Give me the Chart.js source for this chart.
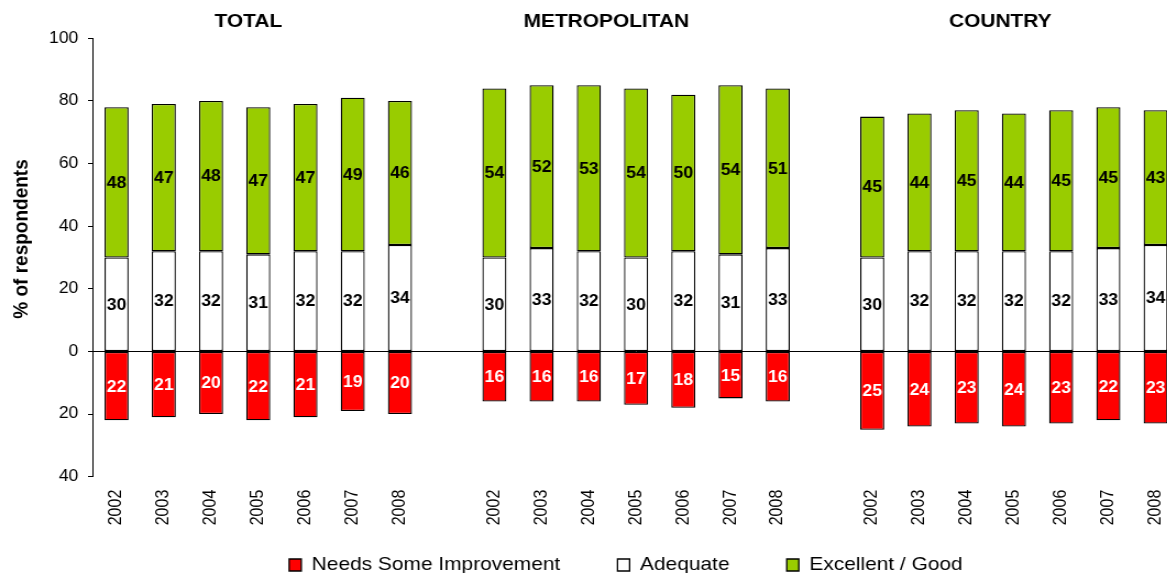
<!DOCTYPE html>
<html>
<head>
<meta charset="utf-8">
<script src="https://cdn.jsdelivr.net/npm/chart.js@4.4.1/dist/chart.umd.min.js"></script>
<style>
    html, body { margin: 0; padding: 0; background: #fff; overflow: hidden; }
    /* the original picture is a little wider than tall in its text, so stretch it */
    #wrap { width: 1072px; height: 573px; transform: scaleX(1.1); transform-origin: 0 0; }
</style>
</head>
<body>
<div id="wrap"><canvas id="myChart"></canvas></div>
<script>
const years = ['2002', '2003', '2004', '2005', '2006', '2007', '2008'];
const groups = ['TOTAL', 'METROPOLITAN', 'COUNTRY'];

const needsTotal = [22, 21, 20, 22, 21, 19, 20];
const needsMetro = [16, 16, 16, 17, 18, 15, 16];
const needsCountry = [25, 24, 23, 24, 23, 22, 23];

const adequateTotal = [30, 32, 32, 31, 32, 32, 34];
const adequateMetro = [30, 33, 32, 30, 32, 31, 33];
const adequateCountry = [30, 32, 32, 32, 32, 33, 34];

const excellentTotal = [48, 47, 48, 47, 47, 49, 46];
const excellentMetro = [54, 52, 53, 54, 50, 54, 51];
const excellentCountry = [45, 44, 45, 44, 45, 45, 43];

const yTicks = [-40, -20, 0, 20, 40, 60, 80, 100];

// one empty category between the three groups
const labels = [];
groups.forEach((g, i) => {
    if (i > 0) labels.push('');
    labels.push(...years);
});

function series(parts, sign) {
    const out = [];
    parts.forEach((p, i) => {
        if (i > 0) out.push(null);
        p.forEach(v => out.push(v * sign));
    });
    return out;
}

Chart.defaults.font.family = '"Liberation Sans", Arial, sans-serif';
Chart.defaults.color = '#000000';

const barLabels = {
    id: 'barLabels',
    afterDatasetsDraw(chart) {
        const ctx = chart.ctx;
        ctx.save();
        ctx.font = 'bold 16px "Liberation Sans", Arial, sans-serif';
        ctx.textAlign = 'center';
        ctx.textBaseline = 'middle';
        chart.data.datasets.forEach((ds, di) => {
            const meta = chart.getDatasetMeta(di);
            meta.data.forEach((el, i) => {
                const v = ds.data[i];
                if (v === null) return;
                const p = el.getCenterPoint();
                ctx.fillStyle = ds.labelColor;
                ctx.fillText(Math.abs(v), p.x, p.y + 1);
            });
        });
        ctx.restore();
    }
};

const annotations = {
    id: 'annotations',
    afterDraw(chart) {
        const ctx = chart.ctx;
        const x = chart.scales.x;
        const titleAt = [2.79, 10.37, 18.71];
        ctx.save();
        ctx.fillStyle = '#000000';
        ctx.font = 'bold 19px "Liberation Sans", Arial, sans-serif';
        ctx.textAlign = 'center';
        ctx.textBaseline = 'middle';
        groups.forEach((g, i) => ctx.fillText(g, x.getPixelForValue(titleAt[i]), 22));

        // axis title
        ctx.translate(19.4, 239);
        ctx.rotate(-Math.PI / 2);
        ctx.fillText('% of respondents', 0, 0);
        ctx.restore();
    }
};

// legend sits a bit right of the middle and close under the year labels
const legendShift = {
    id: 'legendShift',
    afterLayout(chart) {
        const l = chart.legend;
        const dx = 33;
        const dy = -22.2;
        l.left += dx;
        l.right += dx;
        l.top += dy;
        l.height = l.bottom - l.top;
    }
};

const ctx = document.getElementById('myChart');

new Chart(ctx, {
    type: 'bar',
    data: {
        labels: labels,
        datasets: [
            {
                label: 'Needs Some Improvement',
                data: series([needsTotal, needsMetro, needsCountry], -1),
                backgroundColor: '#FF0000',
                labelColor: '#FFFFFF'
            },
            {
                label: 'Adequate',
                data: series([adequateTotal, adequateMetro, adequateCountry], 1),
                backgroundColor: '#FFFFFF',
                labelColor: '#000000'
            },
            {
                label: 'Excellent / Good',
                data: series([excellentTotal, excellentMetro, excellentCountry], 1),
                backgroundColor: '#99CC00',
                labelColor: '#000000'
            }
        ]
    },
    options: {
        responsive: true,
        maintainAspectRatio: false,
        animation: false,
        layout: {
            padding: {top: 38.3, left: 0, right: 0, bottom: 0}
        },
        datasets: {
            bar: {
                barPercentage: 0.51,
                categoryPercentage: 1,
                borderColor: '#000000',
                borderWidth: 1.3,
                borderSkipped: false
            }
        },
        plugins: {
            legend: {
                position: 'bottom',
                maxHeight: 47.3,
                labels: {
                    padding: 52,
                    boxWidth: 11,
                    boxHeight: 12,
                    color: '#000000',
                    font: {size: 19}
                }
            },
            tooltip: {
                enabled: false
            }
        },
        scales: {
            x: {
                stacked: true,
                grid: {
                    display: false,
                    drawTicks: true,
                    tickLength: 13
                },
                border: {
                    display: false
                },
                ticks: {
                    padding: 0,
                    autoSkip: false,
                    minRotation: 90,
                    maxRotation: 90,
                    color: '#000000',
                    font: {size: 16}
                },
                afterFit: (s) => { s.height = 49; }
            },
            y: {
                stacked: true,
                min: yTicks[0],
                max: yTicks[yTicks.length - 1],
                afterBuildTicks: (s) => { s.ticks = yTicks.map(v => ({value: v})); },
                ticks: {
                    padding: 8.8,
                    color: '#000000',
                    font: {size: 16},
                    callback: (v) => Math.abs(v)
                },
                // only the zero line is drawn across the plot
                grid: {
                    color: (c) => (c.tick && c.tick.value === 0 ? '#000000' : 'rgba(0,0,0,0)'),
                    tickColor: '#000000',
                    tickLength: 4.5
                },
                border: {
                    display: true,
                    color: '#000000',
                    width: 1
                },
                afterFit: (s) => { s.width = 84.5; }
            }
        }
    },
    plugins: [barLabels, annotations, legendShift]
});
</script>
</body>
</html>
